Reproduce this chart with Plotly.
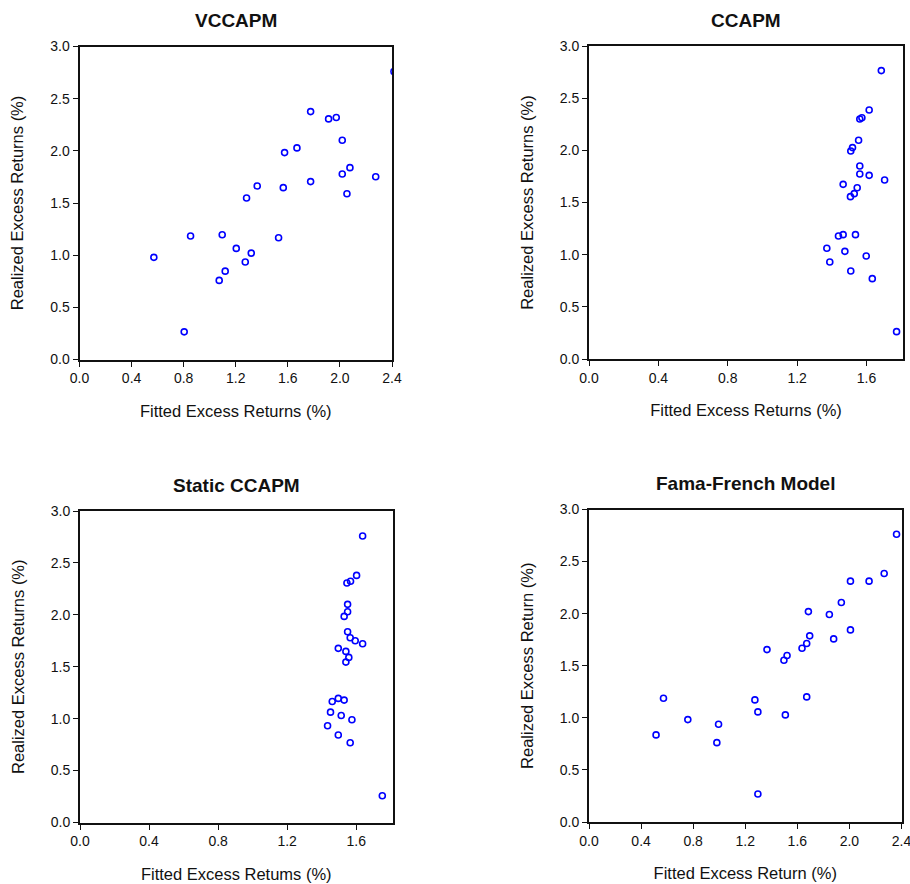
import plotly.graph_objects as go

# ---------------- data ----------------
vccapm_fitted = [0.571, 0.853, 0.804, 1.096, 1.073, 1.119, 1.204, 1.273, 1.319, 1.283,
                 1.365, 1.529, 1.565, 1.575, 1.670, 1.775, 1.775, 1.913, 1.972, 2.018,
                 2.018, 2.077, 2.054, 2.275, 2.415]
vccapm_realized = [0.979, 1.183, 0.265, 1.196, 0.758, 0.847, 1.065, 0.934, 1.020, 1.548,
                   1.663, 1.167, 1.647, 1.983, 2.028, 2.376, 1.705, 2.306, 2.319, 2.101,
                   1.778, 1.839, 1.589, 1.752, 2.760]

ccapm_fitted = [1.685, 1.615, 1.561, 1.573, 1.554, 1.509, 1.519, 1.561, 1.561, 1.615,
                1.704, 1.465, 1.546, 1.529, 1.507, 1.465, 1.438, 1.536, 1.371, 1.475,
                1.388, 1.598, 1.509, 1.633, 1.773]
ccapm_realized = [2.764, 2.387, 2.300, 2.313, 2.096, 1.994, 2.026, 1.850, 1.773, 1.760,
                  1.716, 1.674, 1.642, 1.585, 1.556, 1.192, 1.179, 1.192, 1.061, 1.032,
                  0.930, 0.987, 0.843, 0.770, 0.262]

static_fitted = [1.637, 1.602, 1.567, 1.546, 1.550, 1.550, 1.530, 1.550, 1.565, 1.594,
                 1.637, 1.496, 1.540, 1.557, 1.540, 1.496, 1.461, 1.530, 1.451, 1.513,
                 1.434, 1.575, 1.496, 1.565, 1.751]
static_realized = [2.759, 2.380, 2.323, 2.306, 2.101, 2.030, 1.985, 1.837, 1.780, 1.751,
                   1.722, 1.677, 1.648, 1.590, 1.545, 1.195, 1.166, 1.179, 1.063, 1.031,
                   0.932, 0.989, 0.842, 0.768, 0.257]

ff_fitted = [2.362, 2.267, 2.008, 2.151, 1.938, 1.685, 1.846, 2.008, 1.695, 1.879,
             1.672, 1.636, 1.367, 1.521, 1.497, 0.572, 1.274, 1.672, 1.297, 1.508,
             0.759, 0.995, 0.515, 0.982, 1.297]
ff_realized = [2.763, 2.386, 2.312, 2.312, 2.107, 2.020, 1.992, 1.844, 1.787, 1.758,
               1.713, 1.668, 1.655, 1.598, 1.553, 1.188, 1.172, 1.201, 1.057, 1.028,
               0.983, 0.938, 0.836, 0.762, 0.269]

titles = ["VCCAPM", "CCAPM", "Static CCAPM", "Fama-French Model"]
x_titles = ["Fitted Excess Returns (%)", "Fitted Excess Returns (%)",
            "Fitted Excess Retums (%)", "Fitted Excess Return (%)"]
y_titles = ["Realized Excess Returns (%)", "Realized Excess Returns (%)",
            "Realized Excess Returns (%)", "Realized Excess Return (%)"]
x_max = [2.4, 1.81, 1.81, 2.4]
x_ticks = [0.0, 0.4, 0.8, 1.2, 1.6, 2.0, 2.4]
y_ticks = [0.0, 0.5, 1.0, 1.5, 2.0, 2.5, 3.0]

series = [(vccapm_fitted, vccapm_realized), (ccapm_fitted, ccapm_realized),
          (static_fitted, static_realized), (ff_fitted, ff_realized)]

# ---------------- layout geometry (window pixels) ----------------
W, H = 910, 884
boxes = [(79.5, 392, 46.5, 359.5), (589, 903, 46, 359),
         (80, 392.5, 511, 822.5), (589, 901.5, 509.5, 822)]

FONT = "Liberation Sans, Arial, sans-serif"
fig = go.Figure()
layout = dict(width=W, height=H, margin=dict(l=0, r=0, t=0, b=0, autoexpand=False),
              paper_bgcolor="white", plot_bgcolor="white", showlegend=False,
              font=dict(family=FONT, color="#111111"))
annotations = []

for i, ((xs, ys), (x0, x1, y0, y1)) in enumerate(zip(series, boxes)):
    n = "" if i == 0 else str(i + 1)
    fig.add_trace(go.Scatter(
        x=xs, y=ys, mode="markers", xaxis="x" + n, yaxis="y" + n,
        marker=dict(symbol="circle-open", size=6, color="#0000FF",
                    line=dict(width=1.6, color="#0000FF")),
        cliponaxis=True, hoverinfo="x+y"))
    common = dict(showgrid=False, zeroline=False, showline=True, linecolor="#111111",
                  linewidth=2, mirror=True, ticks="outside", ticklen=5, tickwidth=1.3,
                  tickcolor="#111111", tickfont=dict(size=14, color="#111111"),
                  fixedrange=True, automargin=False, ticklabeloverflow="allow")
    layout["xaxis" + n] = dict(
        common, domain=[x0 / W, x1 / W], range=[0, x_max[i]], anchor="y" + n,
        tickvals=[t for t in x_ticks if t <= x_max[i] + 1e-9],
        ticktext=["%.1f" % t for t in x_ticks if t <= x_max[i] + 1e-9],
        title=dict(text=x_titles[i], font=dict(size=16.5), standoff=20))
    layout["yaxis" + n] = dict(
        common, domain=[1 - y1 / H, 1 - y0 / H], range=[0, 3], anchor="x" + n,
        tickvals=y_ticks, ticktext=["%.1f" % t for t in y_ticks],
        title=dict(text=y_titles[i], font=dict(size=16.5), standoff=22))
    annotations.append(dict(
        text="<b>%s</b>" % titles[i], x=(x0 + x1) / 2 / W, y=1 - (y0 - 26) / H,
        xref="paper", yref="paper", showarrow=False, xanchor="center", yanchor="middle",
        font=dict(size=19, color="#111111", family=FONT)))

layout["annotations"] = annotations
fig.update_layout(**layout)
# remove the default 8px page margin so the figure fills the window exactly
fig.write_html("out.html", config={"displayModeBar": False},
               post_script="document.body.style.margin='0';document.body.style.overflow='hidden';")
